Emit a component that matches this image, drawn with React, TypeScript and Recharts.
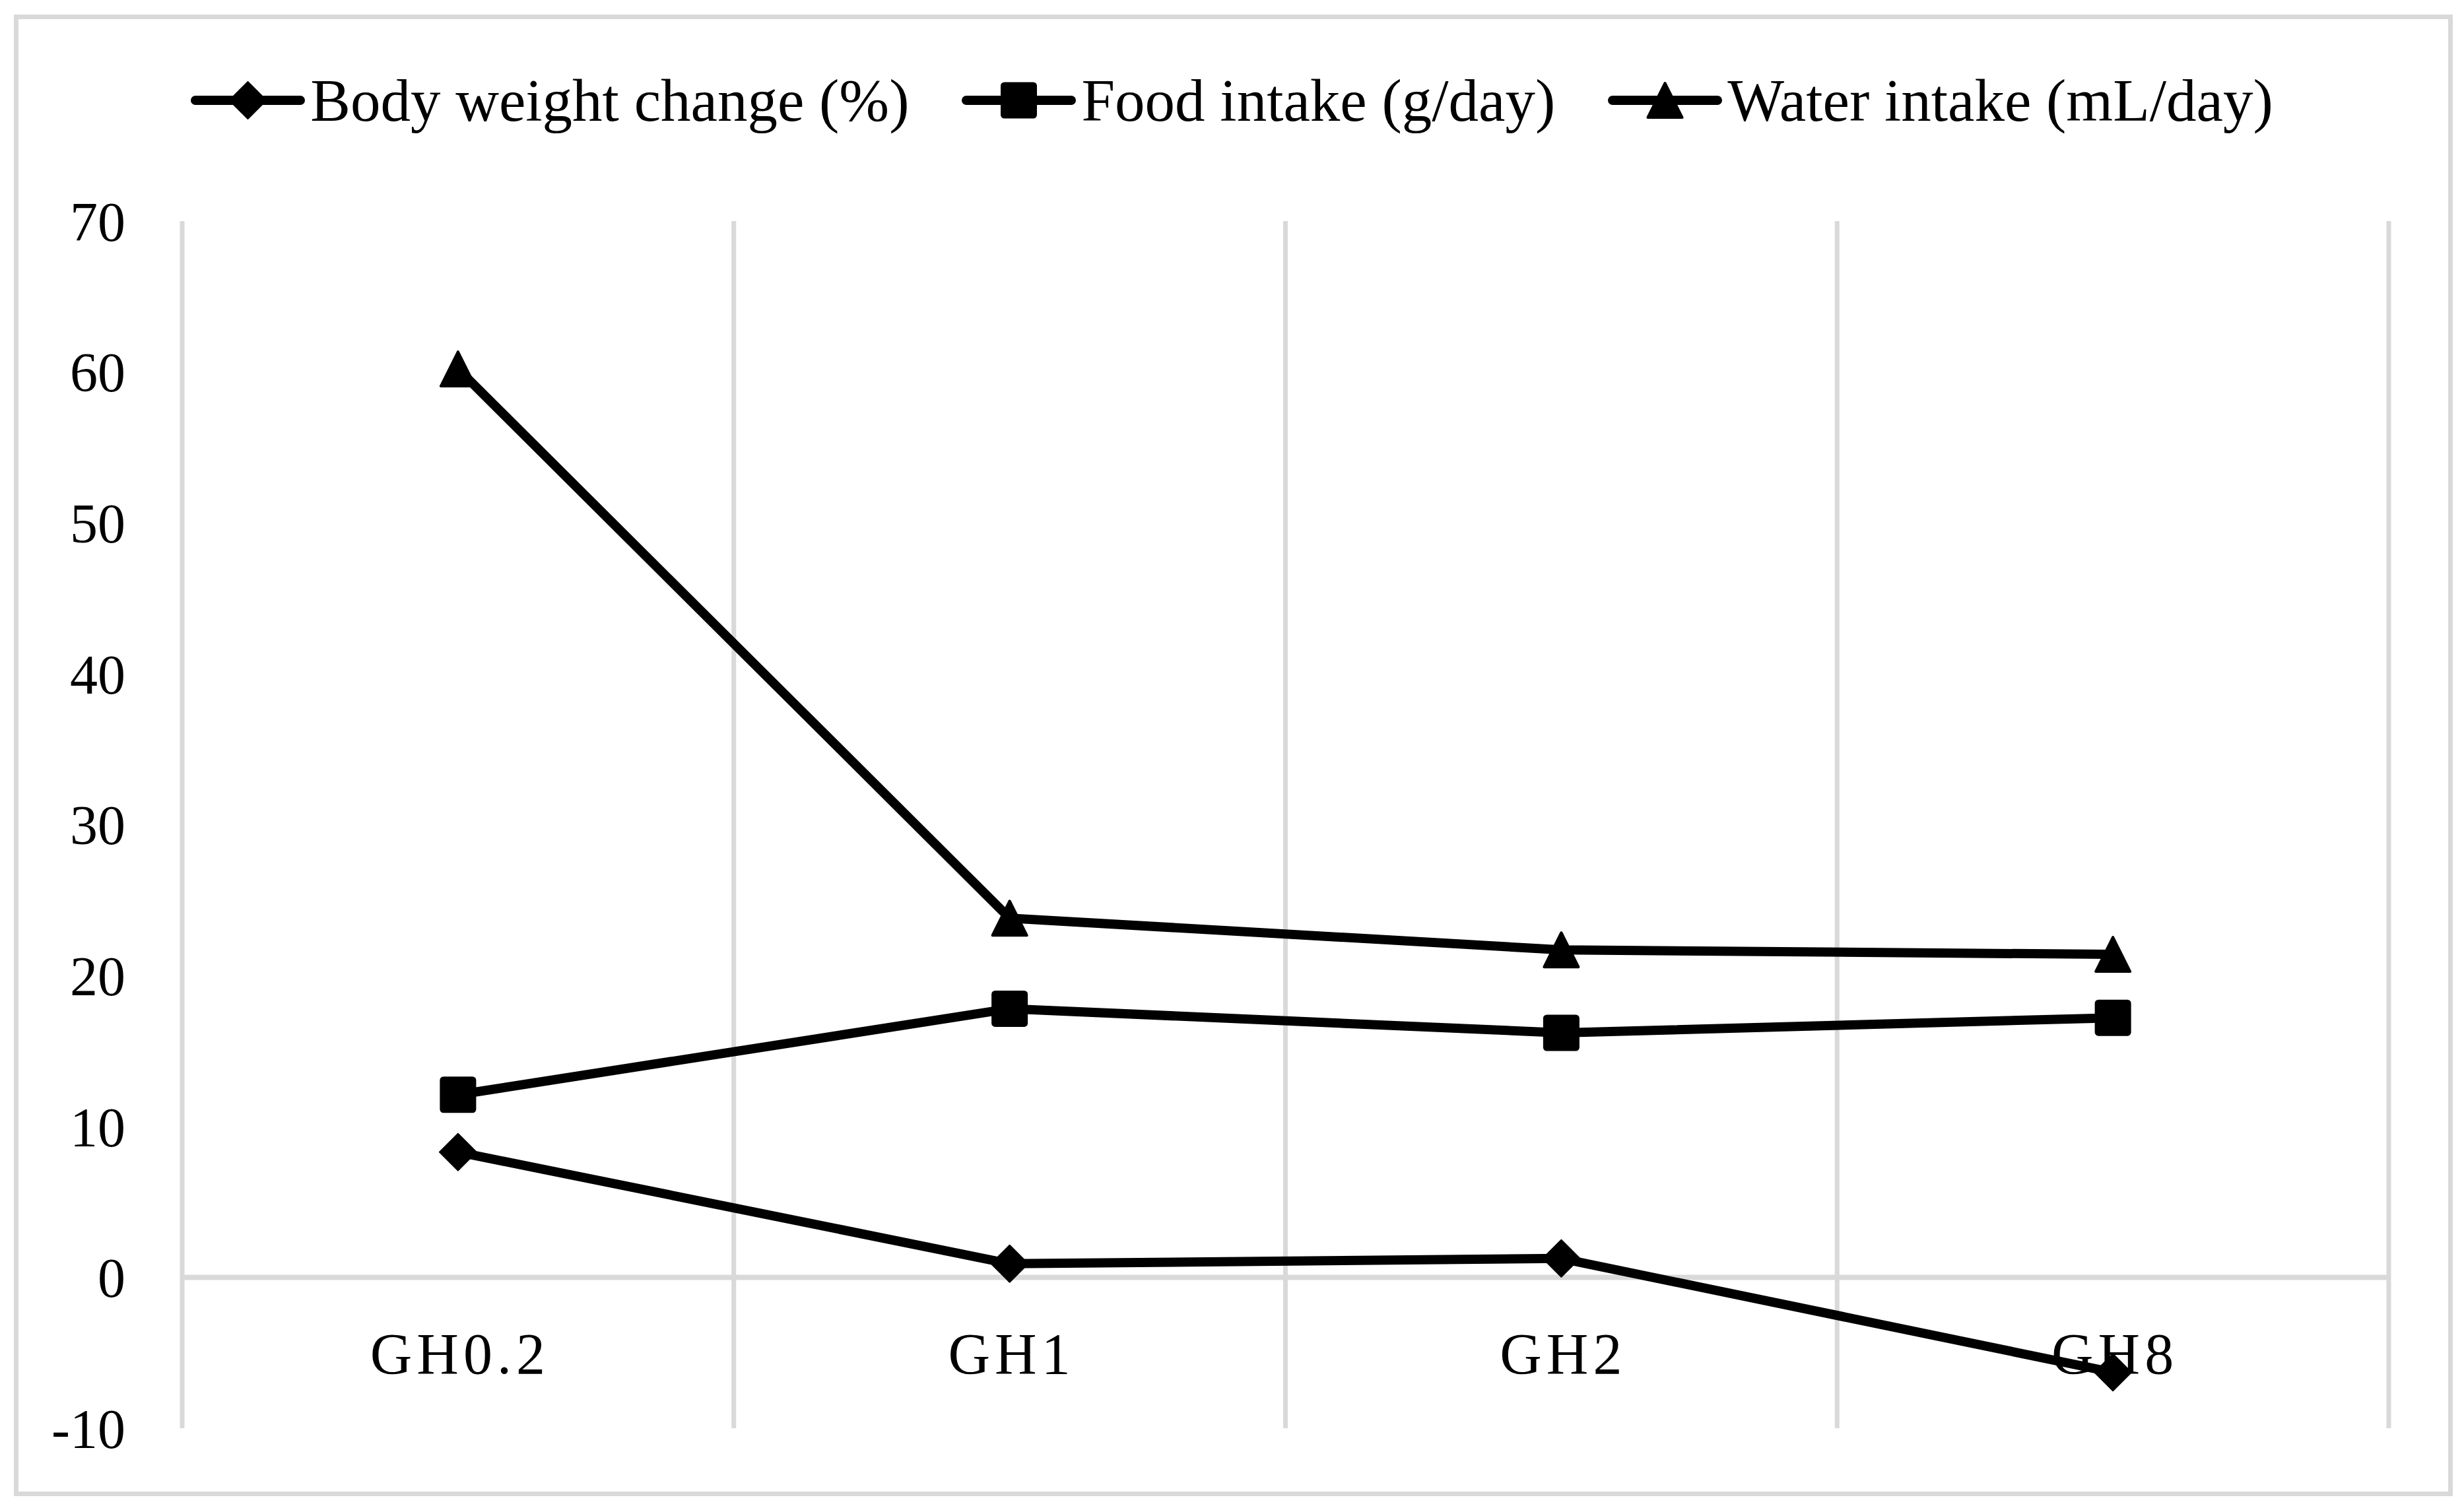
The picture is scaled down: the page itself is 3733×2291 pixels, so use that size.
import React from 'react';
import { LineChart, Line, XAxis, YAxis, CartesianGrid, Legend, ReferenceLine } from 'recharts';

const groups = ['GH0.2', 'GH1', 'GH2', 'GH8'];
const bodyWeight = [8.3, 0.9, 1.25, -6.3];
const foodIntake = [12.1, 17.8, 16.2, 17.2];
const waterIntake = [60.2, 23.8, 21.7, 21.4];
const yTicks = [-10, 0, 10, 20, 30, 40, 50, 60, 70];

const seriesNames = ['Body weight change (%)', 'Food intake (g/day)', 'Water intake (mL/day)'];

const data = groups.map((g, i) => ({
  group: g,
  bw: bodyWeight[i],
  food: foodIntake[i],
  water: waterIntake[i],
}));

const W = 3733;
const H = 2291;
const FONT = '"Liberation Serif", "Times New Roman", serif';
const GRID = '#d9d9d9';

const Diamond = ({ cx, cy, s = 28 }: any) => (
  <path
    d={`M${cx},${cy - s} L${cx + s},${cy} L${cx},${cy + s} L${cx - s},${cy} Z`}
    fill="#000"
    stroke="#000"
    strokeWidth={2}
    strokeLinejoin="round"
  />
);

const Square = ({ cx, cy, s = 26 }: any) => (
  <rect x={cx - s} y={cy - s} width={2 * s} height={2 * s} rx={4} ry={4} fill="#000" stroke="#000" strokeWidth={3} />
);

const Triangle = ({ cx, cy, s = 26 }: any) => (
  <path
    d={`M${cx},${cy - s} L${cx + s},${cy + s} L${cx - s},${cy + s} Z`}
    fill="#000"
    stroke="#000"
    strokeWidth={4}
    strokeLinejoin="round"
  />
);

const markers = [Diamond, Square, Triangle];

const LegendSymbol = ({ idx }: { idx: number }) => {
  const M = markers[idx];
  return (
    <svg width={173} height={64} style={{ display: 'block' }}>
      <line x1={7} y1={32} x2={166} y2={32} stroke="#000" strokeWidth={14} strokeLinecap="round" />
      <M cx={86.5} cy={32} />
    </svg>
  );
};

const CustomLegend = () => (
  <div
    style={{
      display: 'flex',
      justifyContent: 'center',
      alignItems: 'center',
      height: 114,
      width: '100%',
      fontFamily: FONT,
      fontSize: 91,
      lineHeight: 1,
      color: '#000',
    }}
  >
    {seriesNames.map((n, i) => (
      <div key={n} style={{ display: 'flex', alignItems: 'center', marginRight: i < seriesNames.length - 1 ? 80 : 0 }}>
        <LegendSymbol idx={i} />
        <span style={{ marginLeft: 8, whiteSpace: 'nowrap' }}>{n}</span>
      </div>
    ))}
  </div>
);

const XTick = (props: any) => {
  const { x, y, payload } = props;
  return (
    <text x={x + 3} y={y - 83} textAnchor="middle" fontFamily={FONT} fontSize={88} letterSpacing={7} fill="#000">
      {payload.value}
    </text>
  );
};

export default function App() {
  return (
    <div style={{ position: 'absolute', left: 0, top: 0, width: W, height: H, background: '#fff', overflow: 'hidden' }}>
      <div
        style={{
          position: 'absolute',
          left: 21,
          top: 22,
          width: 3695,
          height: 2245,
          border: `7px solid ${GRID}`,
          boxSizing: 'border-box',
        }}
      />
      <div style={{ position: 'absolute', left: 0, top: 0 }}>
        <LineChart width={W} height={H} data={data} margin={{ top: 335, right: 114, bottom: 0, left: 0 }}>
          <CartesianGrid
            horizontal={false}
            vertical={true}
            stroke={GRID}
            strokeWidth={7}
            verticalCoordinatesGenerator={({ offset }: any) =>
              [0, 1, 2, 3, 4].map((i) => offset.left + (i * offset.width) / groups.length)
            }
          />
          <XAxis
            dataKey="group"
            type="category"
            scale="band"
            axisLine={false}
            tickLine={false}
            tickSize={0}
            tickMargin={0}
            height={127}
            tick={<XTick />}
            interval={0}
          />
          <YAxis
            type="number"
            domain={[-10, 70]}
            ticks={yTicks}
            axisLine={false}
            tickLine={false}
            tickSize={0}
            tickMargin={86}
            width={276}
            interval={0}
            tick={{ fontFamily: FONT, fontSize: 84, fill: '#000' }}
          />
          <ReferenceLine y={0} stroke={GRID} strokeWidth={8} />
          <Legend
            layout="horizontal"
            verticalAlign="middle"
            align="center"
            content={() => <CustomLegend />}
            wrapperStyle={{ top: 95, left: 0, width: W, height: 114 }}
          />
          <Line
            type="linear"
            dataKey="bw"
            name={seriesNames[0]}
            stroke="#000"
            strokeWidth={14}
            strokeLinejoin="round"
            isAnimationActive={false}
            dot={(p: any) => <Diamond key={`d${p.index}`} cx={p.cx} cy={p.cy} />}
            activeDot={false}
          />
          <Line
            type="linear"
            dataKey="food"
            name={seriesNames[1]}
            stroke="#000"
            strokeWidth={14}
            strokeLinejoin="round"
            isAnimationActive={false}
            dot={(p: any) => <Square key={`s${p.index}`} cx={p.cx} cy={p.cy} />}
            activeDot={false}
          />
          <Line
            type="linear"
            dataKey="water"
            name={seriesNames[2]}
            stroke="#000"
            strokeWidth={14}
            strokeLinejoin="round"
            isAnimationActive={false}
            dot={(p: any) => <Triangle key={`t${p.index}`} cx={p.cx} cy={p.cy} />}
            activeDot={false}
          />
        </LineChart>
      </div>
    </div>
  );
}
